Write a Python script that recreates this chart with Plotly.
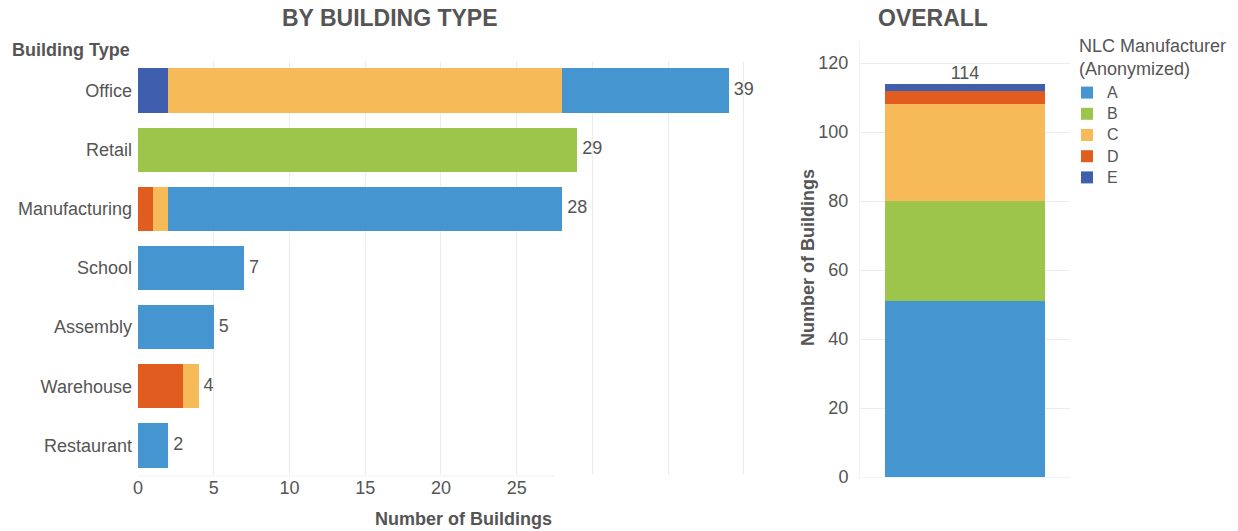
import plotly.graph_objects as go

# Buildings by type, split by (anonymized) NLC manufacturer
building_types = ["Office", "Retail", "Manufacturing", "School", "Assembly", "Warehouse", "Restaurant"]
manufacturers = ["A", "B", "C", "D", "E"]
count_a = [11, 0, 26, 7, 5, 0, 2]
count_b = [0, 29, 0, 0, 0, 0, 0]
count_c = [26, 0, 1, 0, 0, 1, 0]
count_d = [0, 0, 1, 0, 0, 3, 0]
count_e = [2, 0, 0, 0, 0, 0, 0]
x_tick_values = [0, 5, 10, 15, 20, 25, 30, 35, 40]
x_tick_labels = ["0", "5", "10", "15", "20", "25", "", "", ""]
y_tick_values = [0, 20, 40, 60, 80, 100, 120]

counts = {"A": count_a, "B": count_b, "C": count_c, "D": count_d, "E": count_e}
colors = {"A": "#4596d0", "B": "#9dc54b", "C": "#f6ba58", "D": "#e05d1f", "E": "#3f5fae"}

type_totals = [sum(counts[m][i] for m in manufacturers) for i in range(len(building_types))]
overall = {m: sum(counts[m]) for m in manufacturers}
overall_total = sum(overall.values())

W, H = 1238, 531
TEXT = "#555555"
GRID = "#ececec"
FONT = "Liberation Sans, Arial, sans-serif"


def px_x(p):
    return p / W


def px_y(p):
    return 1 - p / H


fig = go.Figure()

# Overall stacked column (A at the bottom), also drives the legend
for m in manufacturers:
    fig.add_trace(go.Bar(
        x=["Overall"], y=[overall[m]], name=f'<span style="font-size:16px">{m}</span>',
        marker_color=colors[m], marker_line_width=0, width=0.76, xaxis="x2", yaxis="y2",
        legendgroup=m, showlegend=True, hoverinfo="skip",
    ))

fig.add_trace(go.Scatter(
    x=["Overall"], y=[overall_total], text=[str(overall_total)], mode="text",
    textposition="top center", textfont=dict(size=18, color=TEXT, family=FONT),
    xaxis="x2", yaxis="y2", showlegend=False, hoverinfo="skip", cliponaxis=False,
))

# Horizontal stacked bars by building type (E leftmost, A rightmost)
for m in reversed(manufacturers):
    fig.add_trace(go.Bar(
        y=building_types, x=counts[m], name=m, orientation="h",
        marker_color=colors[m], marker_line_width=0,
        xaxis="x", yaxis="y", legendgroup=m, showlegend=False, hoverinfo="skip",
    ))

fig.add_trace(go.Scatter(
    y=building_types, x=type_totals, text=[f" {t}" for t in type_totals], mode="text",
    textposition="middle right", textfont=dict(size=18, color=TEXT, family=FONT),
    xaxis="x", yaxis="y", showlegend=False, hoverinfo="skip", cliponaxis=False,
))

fig.update_layout(
    width=W, height=H, margin=dict(l=0, r=0, t=0, b=0, autoexpand=False),
    paper_bgcolor="white", plot_bgcolor="white",
    barmode="stack", bargap=0.25,
    font=dict(family=FONT, size=18, color=TEXT),
    xaxis=dict(
        domain=[px_x(138), px_x(750)], range=[0, 40.4], anchor="y", automargin=False,
        tickvals=x_tick_values, ticktext=x_tick_labels,
        showgrid=True, gridcolor=GRID, gridwidth=1, zeroline=False,
        showline=False, ticks="", tickfont=dict(size=18, color=TEXT),
    ),
    yaxis=dict(
        domain=[px_y(475), px_y(61)], anchor="x", automargin=False,
        categoryorder="array", categoryarray=building_types, autorange="reversed",
        showgrid=False, zeroline=False, showline=False, ticks="",
        ticklabelstandoff=5, tickfont=dict(size=18, color=TEXT),
    ),
    xaxis2=dict(
        domain=[px_x(860), px_x(1070)], range=[-0.5, 0.5], anchor="y2", automargin=False,
        showticklabels=False, showgrid=False, zeroline=False,
        showline=True, linecolor="#f2f2f2", mirror=False, ticks="",
    ),
    yaxis2=dict(
        domain=[px_y(477), px_y(42.3)], range=[0, 126], anchor="x2", automargin=False,
        tickvals=y_tick_values, showgrid=True, gridcolor=GRID, gridwidth=1,
        zeroline=False, showline=True, linecolor="#f2f2f2", ticks="",
        ticklabelstandoff=7, tickfont=dict(size=18, color=TEXT),
    ),
    legend=dict(
        x=px_x(1067), y=px_y(77), xanchor="left", yanchor="top",
        font=dict(size=14, color=TEXT), traceorder="normal",
        bgcolor="rgba(0,0,0,0)", itemclick=False, itemdoubleclick=False,
    ),
    shapes=[
        # faint baseline under the building-type axis
        dict(type="line", xref="paper", yref="paper",
             x0=px_x(138), x1=px_x(555), y0=px_y(476), y1=px_y(476),
             line=dict(color="#f0f0f0", width=1)),
    ],
    annotations=[
        dict(text="<b>BY BUILDING TYPE</b>", x=px_x(390), y=px_y(18), xref="paper", yref="paper",
             xanchor="center", yanchor="middle", showarrow=False, font=dict(size=23, color=TEXT)),
        dict(text="<b>OVERALL</b>", x=px_x(933), y=px_y(18), xref="paper", yref="paper",
             xanchor="center", yanchor="middle", showarrow=False, font=dict(size=23, color=TEXT)),
        dict(text="<b>Building Type</b>", x=px_x(10), y=px_y(50), xref="paper", yref="paper",
             xanchor="left", yanchor="middle", showarrow=False, font=dict(size=18, color=TEXT)),
        dict(text="<b>Number of Buildings</b>", x=px_x(463), y=px_y(519), xref="paper", yref="paper",
             xanchor="center", yanchor="middle", showarrow=False, font=dict(size=18, color=TEXT)),
        dict(text="<b>Number of Buildings</b>", x=px_x(808), y=px_y(258), xref="paper", yref="paper",
             xanchor="center", yanchor="middle", textangle=-90, showarrow=False,
             font=dict(size=18, color=TEXT)),
        # legend heading
        dict(text="NLC Manufacturer<br>(Anonymized)", x=px_x(1077), y=px_y(57), xref="paper", yref="paper",
             xanchor="left", yanchor="middle", align="left", showarrow=False,
             font=dict(size=18, color=TEXT)),
    ],
)

fig.write_html("out.html", config={"displayModeBar": False})
